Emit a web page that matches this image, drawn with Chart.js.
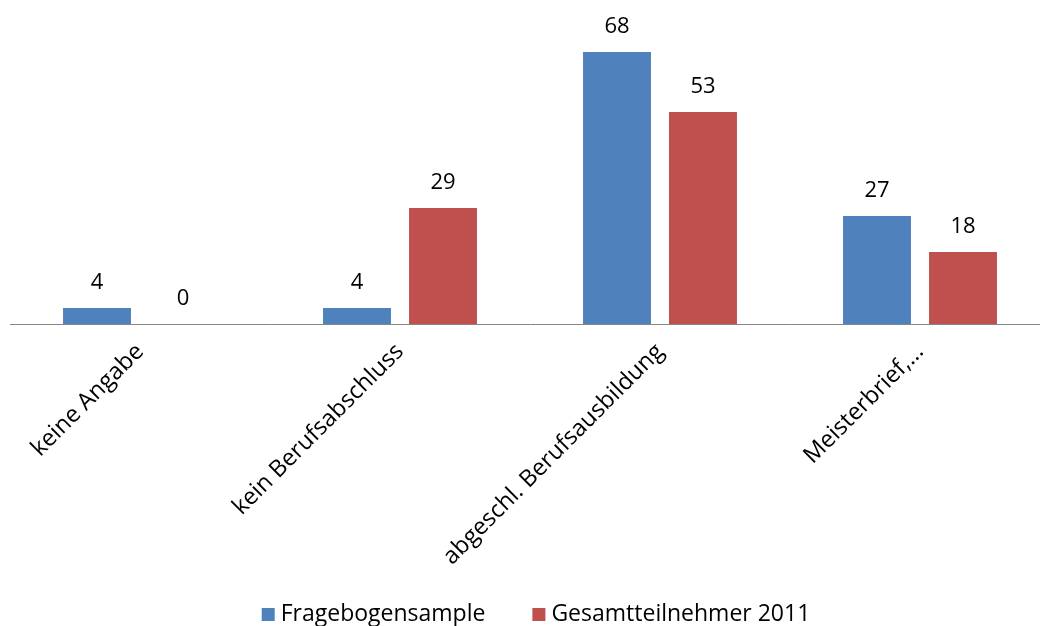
<!DOCTYPE html>
<html>
<head>
<meta charset="utf-8">
<script src="https://cdn.jsdelivr.net/npm/chart.js@4/dist/chart.umd.min.js"></script>
<style>
  html, body { margin: 0; padding: 0; background: #fff; overflow: hidden; }
  #wrap { width: 1050px; height: 626px; }
</style>
</head>
<body>
<div id="wrap"><canvas id="myChart" width="1050" height="626"></canvas></div>
<script>
var categories = ['keine Angabe', 'kein Berufsabschluss', 'abgeschl. Berufsausbildung', 'Meisterbrief,...'];
var sample_values = [4, 4, 68, 27];
var total_values = [0, 29, 53, 18];
var series_names = ['Fragebogensample', 'Gesamtteilnehmer 2011'];

var font_name = "'Open Sans', 'DejaVu Sans', sans-serif";

// writes the value above every bar
var valueLabels = {
  id: 'valueLabels',
  afterDatasetsDraw: function(chart) {
    var c = chart.ctx;
    c.save();
    c.font = '22px ' + font_name;
    c.fillStyle = '#000';
    c.textAlign = 'center';
    c.textBaseline = 'alphabetic';
    chart.data.datasets.forEach(function(ds, i) {
      chart.getDatasetMeta(i).data.forEach(function(bar, j) {
        c.fillText(ds.data[j], bar.x, bar.y - 19);
      });
    });
    c.restore();
  }
};

// legend row at the bottom, square swatch + series name
var bottomLegend = {
  id: 'bottomLegend',
  afterDraw: function(chart) {
    var c = chart.ctx;
    var box = 13, gapBox = 6, gapItem = 47;
    c.save();
    c.font = '23px ' + font_name;
    c.textBaseline = 'alphabetic';
    var sets = chart.data.datasets;
    var total = 0;
    sets.forEach(function(ds, i) {
      total += box + gapBox + c.measureText(ds.label).width;
      if (i < sets.length - 1) total += gapItem;
    });
    var x = chart.width / 2 + 11 - total / 2;
    var base = 621;
    sets.forEach(function(ds) {
      c.fillStyle = ds.backgroundColor;
      c.fillRect(x, base - 13, box, box);
      x += box + gapBox;
      c.fillStyle = '#000';
      c.fillText(ds.label, x, base);
      x += c.measureText(ds.label).width + gapItem;
    });
    c.restore();
  }
};

var ctx = document.getElementById('myChart').getContext('2d');
var chart = new Chart(ctx, {
  type: 'bar',
  data: {
    labels: categories,
    datasets: [{
      label: series_names[0],
      backgroundColor: '#4F81BD',
      data: sample_values
    }, {
      label: series_names[1],
      backgroundColor: '#C0504D',
      data: total_values
    }]
  },
  options: {
    responsive: false,
    animation: false,
    categoryPercentage: 0.6615,
    barPercentage: 0.79,
    layout: { padding: { left: 10, top: 0, right: 0, bottom: 0 } },
    plugins: {
      tooltip: { enabled: false },
      legend: { display: false }
    },
    scales: {
      x: {
        grid: { display: false },
        border: { display: true, color: '#868686', width: 1 },
        ticks: {
          autoSkip: false,
          minRotation: 45,
          maxRotation: 45,
          padding: 6,
          color: '#000',
          font: { family: font_name, size: 23.5 }
        },
        afterFit: function(scale) { scale.height = 302; }
      },
      y: {
        display: false,
        min: 0,
        max: 81
      }
    }
  },
  plugins: [valueLabels, bottomLegend]
});
</script>
</body>
</html>
